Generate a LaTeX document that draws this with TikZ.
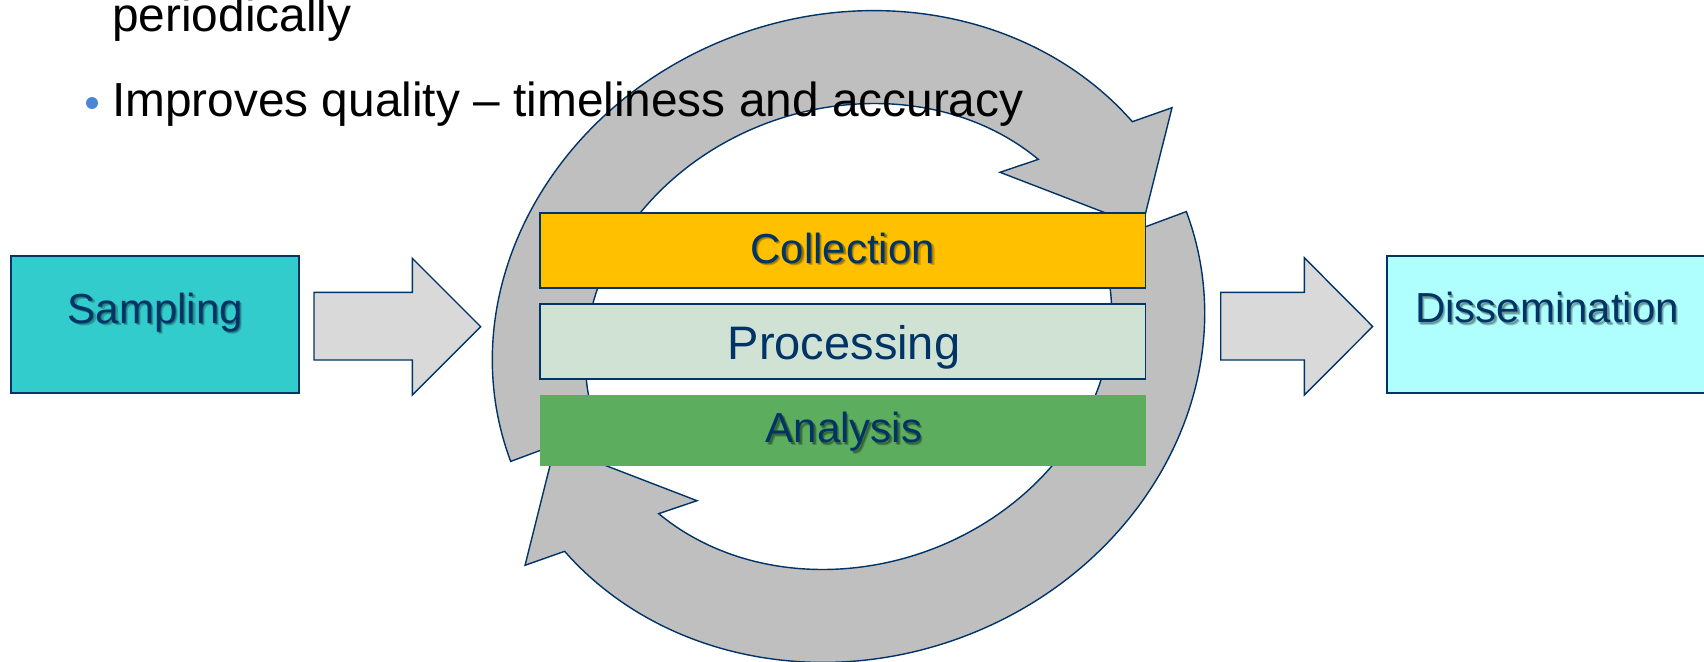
\documentclass[tikz,border=0pt]{standalone}
\usepackage{fontspec}
\setmainfont{Liberation Sans}
\definecolor{navy}{RGB}{0,51,102}
\definecolor{ringgray}{RGB}{191,191,191}
\definecolor{arrowgray}{RGB}{217,217,217}
\definecolor{sampfill}{RGB}{51,204,204}
\definecolor{dissfill}{RGB}{175,255,255}
\definecolor{collfill}{RGB}{255,192,0}
\definecolor{procfill}{RGB}{208,226,211}
\definecolor{analfill}{RGB}{92,174,94}
\definecolor{bulletblue}{RGB}{74,134,216}

% label with a soft drop shadow: name, x, baseline y, text
\newcommand\shadowedlabel[4]{%
  \node[lab, text=black, text opacity=0.22] (#1-shA) at (#2+2.4,#3+2.4) {#4};
  \node[lab, text=black, text opacity=0.25] (#1-shB) at (#2+1.3,#3+1.3) {#4};
  \node[lab] (#1) at (#2,#3) {#4};}

\begin{document}
\begin{tikzpicture}[x=1pt,y=-1pt,
  ring/.style={fill=ringgray, draw=navy, line width=1.4pt, line join=miter},
  boxnode/.style={rectangle, draw=navy, line width=1.8pt, inner sep=0pt, outer sep=0pt, anchor=north west},
  blockarrow/.style={fill=arrowgray, draw=navy, line width=1.4pt, line join=miter},
  lab/.style={inner sep=0pt, text=navy, anchor=base, font=\fontsize{42}{50}\selectfont},
  bodytext/.style={inner sep=0pt, anchor=base west, text=black, font=\fontsize{47.8}{56}\selectfont},
]
\useasboundingbox (0,0) rectangle (1704,661);
\fill[white] (0,0) rectangle (1704,661);
\begin{scope}
\clip (0,0) rectangle (1704,661);

% the two arrows of the cycle, drawn in the frame of the tilted ellipse
\begin{scope}[shift={(848.5,336.5)}, rotate=19.4, yscale=-1]
  \filldraw[ring] (181:360.2 and 321.4)
    arc[start angle=181, end angle=19.7, x radius=360.2, y radius=321.4]
    -- (381.13,108.36) -- (313.30,5.76) -- (197.44,104.56)
    -- (27.1:267.2 and 228.4)
    arc[start angle=27.1, end angle=181, x radius=267.2, y radius=228.4]
    -- cycle;
  \filldraw[ring] (1:360.2 and 321.4)
    arc[start angle=1, end angle=-160.3, x radius=360.2, y radius=321.4]
    -- (-381.13,-108.36) -- (-313.30,-5.76) -- (-197.44,-104.56)
    -- (-152.9:267.2 and 228.4)
    arc[start angle=-152.9, end angle=1, x radius=267.2, y radius=228.4]
    -- cycle;
\end{scope}

% bullet text
\node[bodytext] (line1) at (112,31.7) {periodically};
\node[bodytext] (line2) at (112,116.7) {Improves quality – timeliness and accuracy};
\node[circle, fill=bulletblue, minimum size=12pt, inner sep=0pt] (bullet) at (92,103) {};

% stages
\node[boxnode, fill=sampfill, minimum width=288.3pt, minimum height=137pt] (sampling) at (11,255.7) {};
\node[boxnode, fill=dissfill, minimum width=320pt, minimum height=136.7pt] (dissemination) at (1387.3,256) {};
\node[boxnode, fill=collfill, minimum width=605.3pt, minimum height=75.6pt] (collection) at (540.2,212.7) {};
\node[boxnode, fill=procfill, minimum width=605.3pt, minimum height=75.3pt] (processing) at (540.2,304) {};
\node[boxnode, draw=none, fill=analfill, minimum width=605.3pt, minimum height=70.7pt] (analysis) at (540.2,395) {};

% block arrows
\filldraw[blockarrow] (314,292.3) -- (412.3,292.3) -- (412.3,258.3) -- (480.7,326.7)
  -- (412.3,395) -- (412.3,360) -- (314,360) -- cycle;
\filldraw[blockarrow] (1220.7,292.3) -- (1304.3,292.3) -- (1304.3,257.7) -- (1372.7,326.5)
  -- (1304.3,395) -- (1304.3,360) -- (1220.7,360) -- cycle;

% labels
\shadowedlabel{samplingtext}{155.2}{323.3}{Sampling}
\shadowedlabel{disstext}{1547}{322.7}{Dissemination}
\shadowedlabel{colltext}{842.8}{263.3}{Collection}
\shadowedlabel{analtext}{844}{442.7}{Analysis}
\node[lab, font=\fontsize{47}{56}\selectfont] (proctext) at (844,359.3) {Processing};
\end{scope}
\end{tikzpicture}
\end{document}
